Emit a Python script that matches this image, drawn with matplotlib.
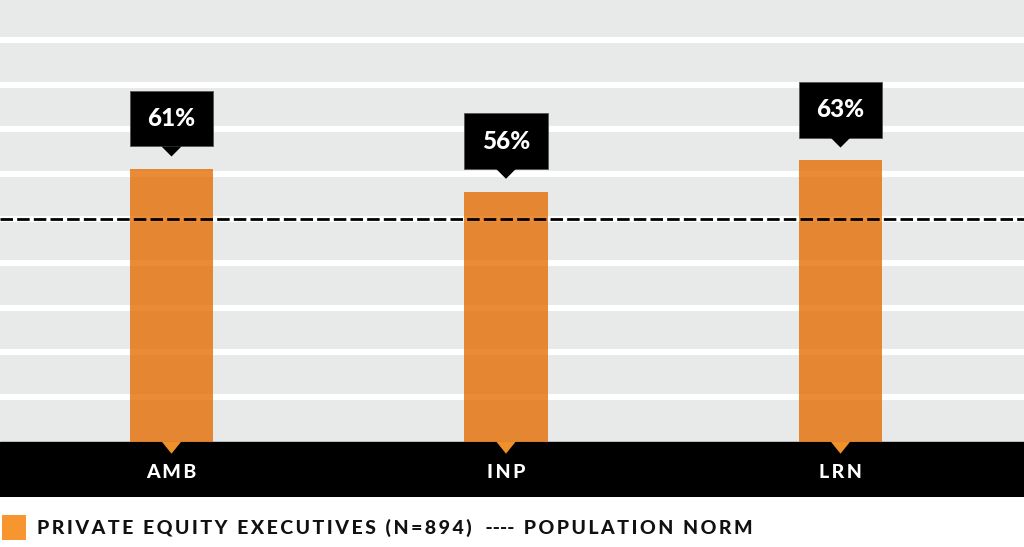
import matplotlib
matplotlib.use("Agg")
import matplotlib.pyplot as plt
from matplotlib.patches import Rectangle, Polygon
import numpy as np

categories = ["AMB", "INP", "LRN"]
values = [61, 56, 63]
norm_value = 50
grid_levels = [10, 20, 30, 40, 50, 60, 70, 80, 90]
series_label = "PRIVATE EQUITY EXECUTIVES (N=894)"
norm_label = "POPULATION NORM"

FONT = ["Lato", "DejaVu Sans"]
GREY = "#e8e9e9"
ORANGE = "#e56a00"


def track(s, sep="\u2009"):
    return sep.join(s)


fig = plt.figure(figsize=(10.24, 5.47), dpi=100)
ax = fig.add_axes([0, 1 - 497 / 547, 1, 497 / 547])
ax.set_xlim(-0.5127, 2.5486)
ax.set_ylim(-12.4, 98.96)
ax.set_facecolor(GREY)
for s in ax.spines.values():
    s.set_visible(False)
ax.set_xticks([])
ax.set_yticks([])

# white bands between the grey stripes
for g in grid_levels:
    ax.axhline(g, color="white", lw=4.4, zorder=1)

# black strip holding the category labels
ax.axhspan(-12.4, 0, color="black", zorder=2)

x = np.arange(len(categories))
bw = 0.25
ax.bar(x, values, width=bw, color=ORANGE, alpha=0.78, zorder=3, linewidth=0)

# population norm
ax.axhline(norm_value, color="black", lw=2, ls=(0, (4.5, 1.5)), zorder=4)

for xi, v, c in zip(x, values, categories):
    # callout box
    b0 = v + 5.15
    ax.add_patch(Rectangle((xi - bw / 2, b0), bw, 12.45, facecolor="black",
                           edgecolor="#555555", lw=0.6, zorder=5))
    ax.add_patch(Polygon([(xi - 0.03, b0), (xi + 0.03, b0), (xi, v + 2.9)],
                         closed=True, facecolor="black", lw=0, zorder=5))
    ax.text(xi, b0 + 6.2, f"{v}%", color="white", fontsize=17.5,
            fontweight=900, family=FONT, ha="center", va="center", zorder=6)
    # little orange pointer into the black strip
    ax.add_patch(Polygon([(xi - 0.029, 0), (xi + 0.029, 0), (xi, -2.7)],
                         closed=True, facecolor="#f0902a", lw=0, zorder=3))
    ax.text(xi, -7.0, track(c), color="white", fontsize=14, fontweight=900,
            family=FONT, ha="center", va="center", zorder=6)

# legend
fig.patches.append(Rectangle((2 / 1024, 1 - 540 / 547), 24 / 1024, 25 / 547,
                             transform=fig.transFigure, facecolor="#f7952f",
                             edgecolor="none"))
fig.text(37 / 1024, 1 - 528 / 547,
         track(series_label) + "   " + "----" + "  " + track(norm_label),
         fontsize=14, fontweight=900, family=FONT, color="#111111",
         ha="left", va="center")

fig.savefig("out.png", dpi=100, facecolor="white")
